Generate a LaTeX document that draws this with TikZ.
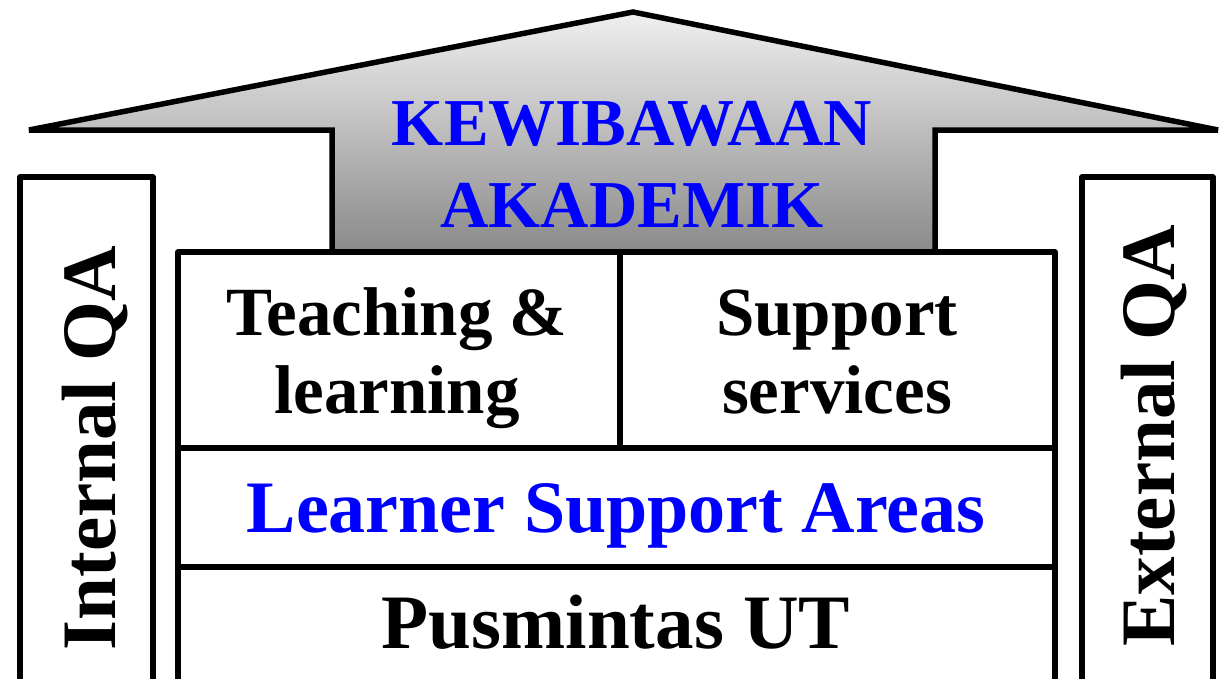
\documentclass[tikz,border=0pt]{standalone}
\usepackage{fontspec}
\setmainfont{Liberation Serif}
\begin{document}
\begin{tikzpicture}[x=1pt,y=-1pt,
  frame/.style={draw=black,line width=5.5pt,fill=white,line join=round},
  roof/.style={draw=black,line width=5.5pt,line join=miter,top color=black!6,bottom color=black!46},
  lbl/.style={anchor=base,inner sep=0pt,align=center},
  fk/.style={font=\bfseries\fontsize{67}{82}\selectfont},
  fm/.style={font=\bfseries\fontsize{69}{78}\selectfont},
  fl/.style={font=\bfseries\fontsize{74}{80}\selectfont},
  fp/.style={font=\bfseries\fontsize{77}{80}\selectfont},
  fq/.style={font=\bfseries\fontsize{77}{80}\selectfont}]
\clip (0,0) rectangle (1220,678);
\fill[white] (0,0) rectangle (1220,678);
% roof
\path[roof] (29,130) -- (633,12) -- (1218,130) -- (935,130) -- (935,252) -- (332,252) -- (332,130) -- cycle;
% side columns
\draw[frame] (20,177) rectangle (153,700);
\draw[frame] (1082,177) rectangle (1213,700);
% stack
\draw[frame] (178,252) rectangle (620,448);
\draw[frame] (620,252) rectangle (1055,448);
\draw[frame] (178,448) rectangle (1055,567);
\draw[frame] (178,567) rectangle (1055,700);
% texts
\node[lbl,fk,text=blue] (kew) at (632,227) {KEWIBAWAAN\\AKADEMIK};
\node[lbl,fm] (teach) at (397,413) {Teaching \&\\learning};
\node[lbl,fm] (supp) at (837,413) {Support\\services};
\node[lbl,fl,text=blue] (lsa) at (616,532) {Learner Support Areas};
\node[lbl,fp] (pus) at (616,648) {Pusmintas UT};
\node[lbl,fq,rotate=90] (iqa) at (115,448) {Internal QA};
\node[lbl,fq,rotate=90] (eqa) at (1174,436) {External QA};
\end{tikzpicture}
\end{document}
